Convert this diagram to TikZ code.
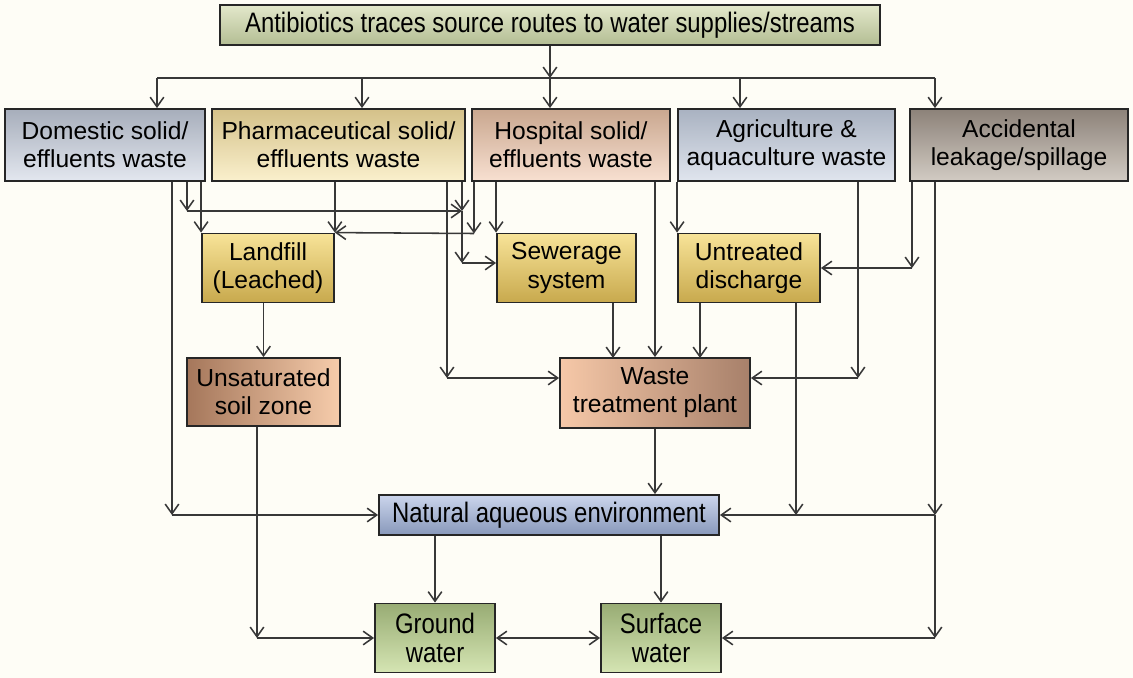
\documentclass[tikz,border=0pt]{standalone}
\usepackage{fontspec}
\setmainfont{Liberation Sans}
\newfontfamily\narrowfont[FakeStretch=0.85]{Liberation Sans}
\usetikzlibrary{arrows.meta,calc,positioning}

\definecolor{bgcream}{HTML}{FEFDF6}
\definecolor{srctop}{HTML}{E3E8CB}
\definecolor{srcbot}{HTML}{B3BD93}
\definecolor{domtop}{HTML}{A7AEBB}
\definecolor{dombot}{HTML}{E3E7EF}
\definecolor{phatop}{HTML}{D4C189}
\definecolor{phabot}{HTML}{FAF0CD}
\definecolor{hostop}{HTML}{C9A78F}
\definecolor{hosbot}{HTML}{F8E0D1}
\definecolor{agrtop}{HTML}{A9B2C1}
\definecolor{agrbot}{HTML}{E0E5EE}
\definecolor{acctop}{HTML}{8C8279}
\definecolor{accbot}{HTML}{D2CBC3}
\definecolor{yeltop}{HTML}{F7E398}
\definecolor{yelbot}{HTML}{C8A94D}
\definecolor{soilleft}{HTML}{A5775B}
\definecolor{soilright}{HTML}{F6CCAB}
\definecolor{wtpleft}{HTML}{F6C8A8}
\definecolor{wtpright}{HTML}{A7806A}
\definecolor{naetop}{HTML}{CBD5EC}
\definecolor{naebot}{HTML}{8898BA}
\definecolor{grntop}{HTML}{98AC74}
\definecolor{grnbot}{HTML}{D5E5B3}

\begin{document}
\begin{tikzpicture}[x=0.025cm, y=-0.025cm,
  box/.style={draw=black!85, line width=1.3pt, align=center, inner sep=1pt, font=\fontsize{17.5}{20}\selectfont},
  narrowbox/.style={box, font=\narrowfont\fontsize{20}{21}\selectfont},
  dims/.style 2 args={minimum width=#1*0.025cm, minimum height=#2*0.025cm},
  yelbox/.style={box, top color=yeltop, bottom color=yelbot},
  link/.style={line width=1.1pt, draw=black!78},
  arr/.style={link, -{Straight Barb[length=2.4mm, width=3.4mm]}},
  dblarr/.style={link, {Straight Barb[length=2.4mm, width=3.4mm]}-{Straight Barb[length=2.4mm, width=3.4mm]}}]
\fill[bgcream] (0,0) rectangle (1133,678);

\node[narrowbox, dims={660}{40}, top color=srctop, bottom color=srcbot] (src) at (550,25) {Antibiotics traces source routes to water supplies/streams};
\node[box, dims={200}{72}, top color=domtop, bottom color=dombot] (dom) at (105,145) {Domestic solid/\\effluents waste};
\node[box, dims={253}{72}, top color=phatop, bottom color=phabot] (pharma) at (338.5,145) {Pharmaceutical solid/\\effluents waste};
\node[box, dims={198}{72}, top color=hostop, bottom color=hosbot] (hosp) at (571,145) {Hospital solid/\\effluents waste};
\node[box, dims={217}{72}, top color=agrtop, bottom color=agrbot] (agri) at (786.5,145) {Agriculture \&\\aquaculture waste};
\node[box, dims={218}{72}, top color=acctop, bottom color=accbot] (acc) at (1019,145) {Accidental\\leakage/spillage};
\node[yelbox, dims={132}{69}] (landfill) at (268,268) {Landfill\\(Leached)};
\node[yelbox, dims={139}{69}] (sewer) at (566.5,268) {Sewerage\\system};
\node[yelbox, dims={142}{69}] (untreat) at (749,268) {Untreated\\discharge};
\node[box, dims={153}{68}, left color=soilleft, right color=soilright] (soil) at (263.5,392) {Unsaturated\\soil zone};
\node[box, dims={190}{70}, left color=wtpleft, right color=wtpright] (wtp) at (655,393) {Waste\\treatment plant};
\node[narrowbox, dims={340}{40}, top color=naetop, bottom color=naebot] (nae) at (549,515) {Natural aqueous environment};
\node[narrowbox, dims={120}{69}, top color=grntop, bottom color=grnbot] (gw) at (435,638) {Ground\\water};
\node[narrowbox, dims={120}{69}, top color=grntop, bottom color=grnbot] (sw) at (661,638) {Surface\\water};

\coordinate (b1) at (157,78);
\coordinate (b2) at (362,78);
\coordinate (b3) at (550,78);
\coordinate (b4) at (740,78);
\coordinate (b5) at (935,78);
\draw[link] (b1) -- (b5);
\draw[arr] (src) -- (b3);
\foreach \b/\n in {b1/dom, b2/pharma, b3/hosp, b4/agri, b5/acc}
  \draw[arr] (\b) -- (\b |- \n.north);

\coordinate (c1) at (172,515);
\coordinate (c2) at (187,211);
\coordinate (c3) at (462,211);
\coordinate (c4) at (447,378);
\coordinate (c5) at (462,263);
\coordinate (c6) at (474,233.5);
\coordinate (c7) at (858,378);
\coordinate (c8) at (912,268);
\coordinate (c9) at (935,515);
\coordinate (c10) at (935,638);
\coordinate (c11) at (257,638);
\coordinate (s1) at (613,358);
\coordinate (s2) at (700,358);
\coordinate (s3) at (796,515);

\draw[arr] (c1 |- dom.south) -- (c1);
\draw[arr] (c1) -- (nae.west);
\draw[arr] (c2 |- dom.south) -- (c2);
\draw[arr] (c2) -- (c3);
\draw[arr] (landfill.north west |- dom.south) -- (landfill.north west);

\draw[arr] (landfill.north east |- pharma.south) -- (landfill.north east);
\draw[arr] (c4 |- pharma.south) -- (c4);
\draw[arr] (c4) -- (c4 -| wtp.west);
\draw[arr] (c3 |- pharma.south) -- (c3);
\draw[arr] (c3) -- (c5);
\draw[arr] (c5) -- (c5 -| sewer.west);

\draw[arr] (c6 |- hosp.south) -- (c6);
\draw[arr] (c6) -- (landfill.north east);
\draw[arr] (sewer.north west |- hosp.south) -- (sewer.north west);
\draw[arr] (wtp.north |- hosp.south) -- (wtp.north);

\draw[arr] (untreat.north west |- agri.south) -- (untreat.north west);
\draw[arr] (c7 |- agri.south) -- (c7);
\draw[arr] (c7) -- (c7 -| wtp.east);

\draw[arr] (c8 |- acc.south) -- (c8);
\draw[arr] (c8) -- (c8 -| untreat.east);
\draw[arr] (c9 |- acc.south) -- (c9);
\draw[arr] (c9) -- (nae.east);
\draw[arr] (c9) -- (c10);
\draw[arr] (c10) -- (sw.east);

\draw[arr] (soil.north |- landfill.south) -- (soil.north);
\draw[arr] (s1 |- sewer.south) -- (s1);
\draw[arr] (s2 |- untreat.south) -- (s2);
\draw[arr] (s3 |- untreat.south) -- (s3);
\draw[arr] (c11 |- soil.south) -- (c11);
\draw[arr] (c11) -- (gw.west);
\draw[arr] (wtp.south) -- (wtp.south |- nae.north);
\draw[arr] (gw.north |- nae.south) -- (gw.north);
\draw[arr] (sw.north |- nae.south) -- (sw.north);
\draw[dblarr] (gw.east) -- (sw.west);
\end{tikzpicture}
\end{document}
